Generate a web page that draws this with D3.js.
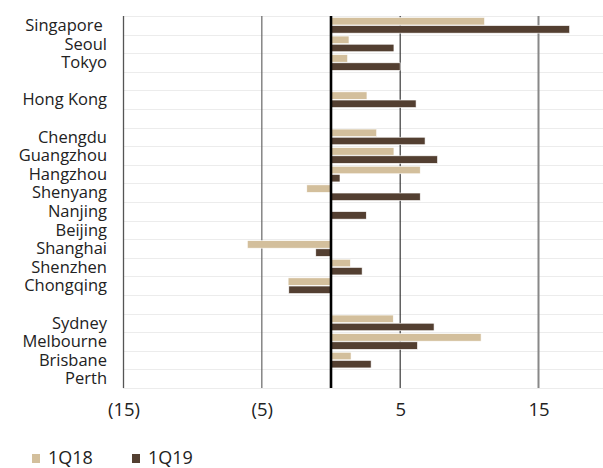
<!DOCTYPE html>
<html><head><meta charset="utf-8">
<script src="https://cdn.jsdelivr.net/npm/d3@7"></script>
<style>body{margin:0;background:#fff;font-family:"Open Sans","Noto Sans",sans-serif;}</style>
</head><body><svg id="c" width="603" height="468"></svg>
<script>
const categories = ["Singapore ","Seoul","Tokyo","_b1","Hong Kong","_b2","Chengdu","Guangzhou","Hangzhou","Shenyang","Nanjing","Beijing","Shanghai","Shenzhen","Chongqing","_b3","Sydney","Melbourne","Brisbane","Perth"];
const values1Q18 = [11.1,1.3,1.2,null,2.6,null,3.3,4.55,6.45,-1.75,0,0,-6.05,1.4,-3.1,null,4.5,10.85,1.45,0];
const values1Q19 = [17.25,4.55,5.0,null,6.15,null,6.8,7.7,0.65,6.45,2.55,0,-1.1,2.25,-3.05,null,7.45,6.25,2.9,0];
const seriesNames = ["1Q18","1Q19"];
const seriesColors = ["#d3bf9c","#533f31"];
const tickValues = [-15,-5,5,15];
const tickLabels = ["(15)","(5)","5","15"];

const svg = d3.select("#c");
const x = d3.scaleLinear().domain([-15,15]).range([123.5,538.5]);
const y = d3.scaleBand().domain(categories).range([16,388]);
const inner = d3.scaleBand().domain(seriesNames).range([0,y.bandwidth()]).paddingInner(0.08).paddingOuter(0.18);

// horizontal row lines
svg.append("g").selectAll("line").data(categories.concat(["_end"])).join("line")
  .attr("x1",123).attr("x2",603)
  .attr("y1",(d,i)=>Math.round(16+i*y.step())+0.5).attr("y2",(d,i)=>Math.round(16+i*y.step())+0.5)
  .attr("stroke","#ececec").attr("stroke-width",1);

// vertical gridlines
const gridStyle = {"-15":["#555",1.3],"-5":["#666",1.2],"5":["#111",1],"15":["#888",2]};
svg.append("g").selectAll("line").data(tickValues).join("line")
  .attr("x1",d=>x(d)).attr("x2",d=>x(d)).attr("y1",16).attr("y2",388)
  .attr("stroke",d=>gridStyle[d][0]).attr("stroke-width",d=>gridStyle[d][1]);

// bars
const series = [values1Q18, values1Q19];
series.forEach((vals,si)=>{
  svg.append("g").selectAll("rect").data(categories.map((c,i)=>({c,v:vals[i]})).filter(d=>d.v)).join("rect")
    .attr("x",d=>x(Math.min(0,d.v)))
    .attr("width",d=>Math.abs(x(d.v)-x(0)))
    .attr("y",d=>y(d.c)+inner(seriesNames[si]))
    .attr("height",inner.bandwidth())
    .attr("fill",seriesColors[si])
    .attr("stroke","#fff").attr("stroke-width",0.6);
});

// zero line
svg.append("line").attr("x1",x(0)).attr("x2",x(0)).attr("y1",16).attr("y2",388)
  .attr("stroke","#000").attr("stroke-width",2.6);

// category labels
svg.append("g").selectAll("text").data(categories.filter(c=>!c.startsWith("_"))).join("text")
  .attr("x",107).attr("y",d=>y(d)+y.bandwidth()/2).attr("dy","0.35em")
  .attr("text-anchor","end").attr("font-size",16.5).attr("fill","#222")
  .style("white-space","pre").text(d=>d);

// x tick labels
const xAxis = d3.axisBottom(x).tickValues(tickValues).tickFormat((d,i)=>tickLabels[i]).tickSize(0).tickPadding(0);
const ax = svg.append("g").attr("transform","translate(0,403)").call(xAxis);
ax.select(".domain").remove();
ax.selectAll("text").attr("font-size",18.5).attr("fill","#222").attr("font-family","'Open Sans','Noto Sans',sans-serif").attr("dy","0.71em");

// legend
const lg = svg.append("g").selectAll("g").data(seriesNames).join("g")
  .attr("transform",(d,i)=>`translate(${[32,132][i]},454)`);
lg.append("rect").attr("width",8).attr("height",9).attr("fill",(d,i)=>seriesColors[i]);
lg.append("text").attr("x",16).attr("y",4).attr("dy","0.36em").attr("font-size",18).attr("fill","#222").text(d=>d);
</script></body></html>
